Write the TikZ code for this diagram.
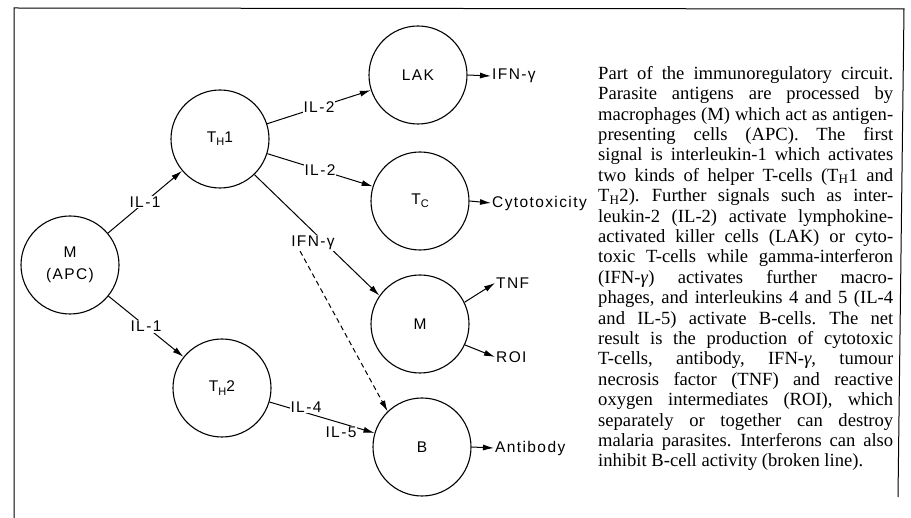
\documentclass[tikz,border=0pt]{standalone}
\usepackage{fontspec}
\setmainfont{Liberation Serif}
\newfontfamily\labfont[LetterSpace=9]{Liberation Sans}
\usetikzlibrary{arrows.meta}
\newcommand{\lsub}[1]{\raisebox{-0.4ex}{\fontsize{11}{11}\selectfont #1}}
\newcommand{\capline}[1]{\hbox to 295pt{\spaceskip=0.25em plus 1fil minus 0.06em\relax
  \xspaceskip=0.3em plus 1fil minus 0.06em\relax #1}}
\newcommand{\lastline}[1]{\hbox to 295pt{\spaceskip=0.25em\relax\xspaceskip=0.3em\relax #1\hfil}}
\begin{document}
\begin{tikzpicture}[x=1pt,y=-1pt,
  cell/.style={draw, circle, minimum size=98pt, inner sep=0pt, line width=1.1pt,
    font=\labfont\fontsize{15.5}{22}\selectfont, align=center},
  lbl/.style={font=\labfont\fontsize{15.5}{17}\selectfont, fill=white, inner sep=1pt},
  outl/.style={font=\labfont\fontsize{15.5}{17}\selectfont, inner sep=1pt, anchor=west},
  arr/.style={-{Latex[length=11pt,width=6pt]}, line width=1pt},
  frame/.style={line width=1pt}
]
\useasboundingbox (0,0) rectangle (911,518);
% frame
\draw[frame] (14,518) -- (14,8) -- (904,9) -- (898,497);

% cells
\node[cell] (m)   at (70,265)  {M\\(APC)};
\node[cell] (th1) at (220,139) {T\lsub{H}1};
\node[cell] (th2) at (222,388) {T\lsub{H}2};
\node[cell] (lak) at (418,75)  {LAK};
\node[cell] (tc)  at (420,201) {T\lsub{C}};
\node[cell] (m2)  at (420,324) {M};
\node[cell] (b)   at (422,447) {B};

% connectors
\draw[arr] (m) -- node[lbl]{IL-1} (th1);
\draw[arr] (m) -- node[lbl]{IL-1} (th2);
\draw[arr] (th1) -- node[lbl]{IL-2} (lak);
\draw[arr] (th1) -- node[lbl]{IL-2} (tc);
\draw[arr] (th1.-46) -- (m2.145);
\draw[arr] (th2) -- (b);
\node[lbl] (ifn) at (313,243) {IFN-γ};
\node[lbl] (il4) at (306,407) {IL-4};
\node[lbl] (il5) at (341,432) {IL-5};
\draw[arr, dashed, dash pattern=on 5pt off 3.5pt] ([xshift=10pt]ifn.south west) -- (b.134);

% outputs
\node[outl] (o1) at (491,76)  {IFN-γ};
\node[outl] (o2) at (491,203) {Cytotoxicity};
\node[outl] (o3) at (495,283) {TNF};
\node[outl] (o4) at (495,357) {ROI};
\node[outl] (o5) at (494,448) {Antibody};
\draw[arr] (lak.east) -- (o1.west);
\draw[arr] (tc.east) -- (o2.west);
\draw[arr] (m2.26) -- (o3.west);
\draw[arr] (m2.-25) -- (o4.west);
\draw[arr] (b.east) -- (o5.west);

% caption
\node[anchor=north west, inner sep=0pt, text width=295pt,
  font=\fontsize{18.6}{20.4}\selectfont] (cap) at (598,66) {%
\capline{Part of the immunoregulatory circuit.}
\capline{Parasite antigens are processed by}
\capline{macrophages (M) which act as antigen-}
\capline{presenting cells (APC). The first}
\capline{signal is interleukin-1 which activates}
\capline{two kinds of helper T-cells (T\textsubscript{H}1 and}
\capline{T\textsubscript{H}2). Further signals such as inter-}
\capline{leukin-2 (IL-2) activate lymphokine-}
\capline{activated killer cells (LAK) or cyto-}
\capline{toxic T-cells while gamma-interferon}
\capline{(IFN-\textit{γ}) activates further macro-}
\capline{phages, and interleukins 4 and 5 (IL-4}
\capline{and IL-5) activate B-cells. The net}
\capline{result is the production of cytotoxic}
\capline{T-cells, antibody, IFN-\textit{γ}, tumour}
\capline{necrosis factor (TNF) and reactive}
\capline{oxygen intermediates (ROI), which}
\capline{separately or together can destroy}
\capline{malaria parasites. Interferons can also}
\lastline{inhibit B-cell activity (broken line).}};
\end{tikzpicture}
\end{document}
